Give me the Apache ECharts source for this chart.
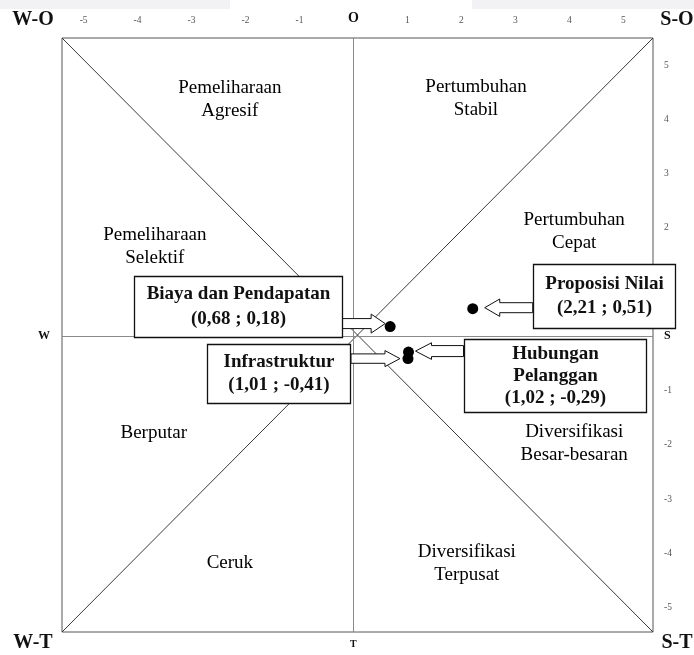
<!DOCTYPE html>
<html>
<head>
<meta charset="utf-8">
<script src="https://cdn.jsdelivr.net/npm/echarts@6/dist/echarts.min.js"></script>
<style>html,body{margin:0;padding:0;background:#fff}#chart{width:694px;height:655px}</style>
</head>
<body>
<div id="chart"></div>
<script>
// ---- data ----
const pointNames = ['Biaya dan Pendapatan', 'Infrastruktur', 'Proposisi Nilai', 'Hubungan\nPelanggan'];
const pointX = [0.68, 1.01, 2.21, 1.02];
const pointY = [0.18, -0.41, 0.51, -0.29];

const xTickValues = [-5, -4, -3, -2, -1, 0, 1, 2, 3, 4, 5];
const yTickValues = [-5, -4, -3, -2, -1, 0, 1, 2, 3, 4, 5];
const zeroLabelTop = 'O';
const zeroLabelRight = 'S';
const zeroLabelBottom = 'T';
const zeroLabelLeft = 'W';

const zoneNames = ['Pemeliharaan\nAgresif', 'Pertumbuhan\nStabil', 'Pemeliharaan\nSelektif', 'Pertumbuhan\nCepat',
                   'Berputar', 'Diversifikasi\nBesar-besaran', 'Ceruk', 'Diversifikasi\nTerpusat'];
const zoneX = [-2.29, 2.27, -3.68, 4.09, -3.70, 4.09, -2.29, 2.10];
const zoneY = [4.36, 4.39, 1.66, 1.94, -1.78, -1.98, -4.18, -4.18];

const cornerLabels = ['W-O', 'S-O', 'W-T', 'S-T'];

// ---- axis extents ----
const xMin = -5.4, xMax = 5.55, yMin = -5.45, yMax = 5.5, step = 0.05;
const diagonalDown = [[xMin, yMax], [xMax, yMin]];
const diagonalUp = [[xMin, yMin], [xMax, yMax]];

// ---- callout styling (pixel offsets relative to each point) ----
const callouts = [
  { tip: -5, head: -19, hh: 9.5, shaft: -48, sh: 5, ady: -3, bx: -256, by: -51, bw: 208, bh: 61, lh: 25 },
  { tip: -8, head: -23, hh: 8, shaft: -57, sh: 4.7, ady: 0, bx: -201, by: -15, bw: 143, bh: 59, lh: 23 },
  { tip: 12, head: 27, hh: 8.7, shaft: 60, sh: 5, ady: -1, bx: 60, by: -45, bw: 142, bh: 64, lh: 24 },
  { tip: 7, head: 23, hh: 8.3, shaft: 55, sh: 5.5, ady: -1, bx: 55, by: -13, bw: 182, bh: 73, lh: 22 }
];

const SERIF = 'Liberation Serif';
const isTick = (v, list) => list.some(t => Math.abs(v - t) < 1e-6);
const fmt = v => v.toFixed(2).replace('.', ',');

const chart = echarts.init(document.getElementById('chart'), null, { renderer: 'canvas' });

const baseAxis = {
  type: 'value',
  interval: step,
  axisLine: { show: false, onZero: false },
  axisTick: { show: false },
  splitLine: { show: false }
};

const option = {
  animation: false,
  backgroundColor: '#ffffff',
  grid: { left: 62, right: 41, top: 38, bottom: 23, show: true, borderColor: '#555', borderWidth: 1, backgroundColor: '#fff' },
  xAxis: [
    Object.assign({}, baseAxis, {
      position: 'top', min: xMin, max: xMax,
      axisLabel: {
        margin: 13, color: '#555', fontSize: 9.5, fontFamily: SERIF, hideOverlap: false,
        formatter: v => {
          if (Math.abs(v) < 1e-6) return '{z|' + zeroLabelTop + '}';
          return isTick(v, xTickValues) ? String(Math.round(v)) : '';
        },
        rich: { z: { fontSize: 14, fontWeight: 'bold', color: '#111', fontFamily: SERIF } }
      }
    }),
    Object.assign({}, baseAxis, {
      position: 'bottom', min: xMin, max: xMax,
      axisLabel: {
        margin: 7, color: '#111', fontSize: 10, fontWeight: 'bold', fontFamily: SERIF, hideOverlap: false,
        formatter: v => (Math.abs(v) < 1e-6 ? zeroLabelBottom : '')
      }
    })
  ],
  yAxis: [
    Object.assign({}, baseAxis, {
      position: 'right', min: yMin, max: yMax,
      axisLabel: {
        margin: 11, color: '#555', fontSize: 9.5, fontFamily: SERIF, hideOverlap: false,
        formatter: v => {
          if (Math.abs(v) < 1e-6) return '{z|' + zeroLabelRight + '}';
          return isTick(v, yTickValues) ? String(Math.round(v)) : '';
        },
        rich: { z: { fontSize: 12, fontWeight: 'bold', color: '#111', fontFamily: SERIF } }
      }
    }),
    Object.assign({}, baseAxis, {
      position: 'left', min: yMin, max: yMax,
      axisLabel: {
        margin: 12, color: '#111', fontSize: 12, fontWeight: 'bold', fontFamily: SERIF, hideOverlap: false,
        formatter: v => (Math.abs(v) < 1e-6 ? zeroLabelLeft : '')
      }
    })
  ],
  graphic: [
    { type: 'rect', shape: { x: 0, y: 0, width: 230, height: 9 }, style: { fill: '#f2f2f4' }, silent: true, z: -10 },
    { type: 'rect', shape: { x: 472, y: 0, width: 222, height: 9 }, style: { fill: '#f2f2f4' }, silent: true, z: -10 },
    { type: 'text', x: 33, y: 20, style: { text: cornerLabels[0], font: 'bold 20px "Liberation Serif"', fill: '#111', align: 'center', verticalAlign: 'middle' } },
    { type: 'text', x: 677, y: 20, style: { text: cornerLabels[1], font: 'bold 20px "Liberation Serif"', fill: '#111', align: 'center', verticalAlign: 'middle' } },
    { type: 'text', x: 33, y: 643, style: { text: cornerLabels[2], font: 'bold 20px "Liberation Serif"', fill: '#111', align: 'center', verticalAlign: 'middle' } },
    { type: 'text', x: 677, y: 643, style: { text: cornerLabels[3], font: 'bold 20px "Liberation Serif"', fill: '#111', align: 'center', verticalAlign: 'middle' } }
  ],
  series: [
    {
      type: 'line', data: diagonalDown, symbol: 'none', silent: true, z: 1,
      lineStyle: { color: '#3a3a3a', width: 1 },
      markLine: {
        silent: true, symbol: 'none', label: { show: false },
        lineStyle: { color: '#8a8a8a', width: 1, type: 'solid' },
        data: [{ xAxis: 0 }, { yAxis: 0 }]
      }
    },
    { type: 'line', data: diagonalUp, symbol: 'none', silent: true, z: 1, lineStyle: { color: '#3a3a3a', width: 1 } },
    {
      type: 'scatter', z: 2, silent: true, symbolSize: 1,
      itemStyle: { color: 'rgba(0,0,0,0)' },
      data: zoneNames.map((n, i) => ({ name: n, value: [zoneX[i], zoneY[i]] })),
      label: {
        show: true, position: 'inside', formatter: p => p.name, opacity: 1,
        fontFamily: SERIF, fontSize: 19, lineHeight: 23, color: '#000', align: 'center'
      }
    },
    {
      type: 'custom', z: 5, silent: true, clip: false,
      data: pointX.map((x, i) => [x, pointY[i]]),
      encode: { x: 0, y: 1 },
      renderItem: (params, api) => {
        const i = params.dataIndex;
        const c = callouts[i];
        const p = api.coord([api.value(0), api.value(1)]);
        const px = p[0], py = p[1];
        const ay = py + c.ady;
        const bx = Math.round(px + c.bx) + 0.5, by = Math.round(py + c.by) + 0.5;
        const text = pointNames[i] + '\n(' + fmt(pointX[i]) + ' ; ' + fmt(pointY[i]) + ')';
        return {
          type: 'group',
          children: [
            {
              type: 'polygon',
              shape: { points: [
                [px + c.shaft, ay - c.sh], [px + c.head, ay - c.sh], [px + c.head, ay - c.hh],
                [px + c.tip, ay], [px + c.head, ay + c.hh], [px + c.head, ay + c.sh], [px + c.shaft, ay + c.sh]
              ] },
              style: { fill: '#fff', stroke: '#111', lineWidth: 1 }
            },
            {
              type: 'rect',
              shape: { x: bx, y: by, width: c.bw, height: c.bh },
              style: { fill: '#fff', stroke: '#111', lineWidth: 1.3 }
            },
            {
              type: 'text',
              x: bx + c.bw / 2, y: by + c.bh / 2,
              style: {
                text: text, fill: '#111', align: 'center', verticalAlign: 'middle',
                fontFamily: SERIF, fontWeight: 'bold', fontSize: 19, lineHeight: c.lh
              }
            }
          ]
        };
      }
    },
    {
      type: 'scatter', z: 6, silent: true, symbol: 'circle', symbolSize: 11,
      itemStyle: { color: '#000', opacity: 1 },
      data: pointX.map((x, i) => [x, pointY[i]])
    }
  ]
};

chart.setOption(option);
</script>
</body>
</html>
